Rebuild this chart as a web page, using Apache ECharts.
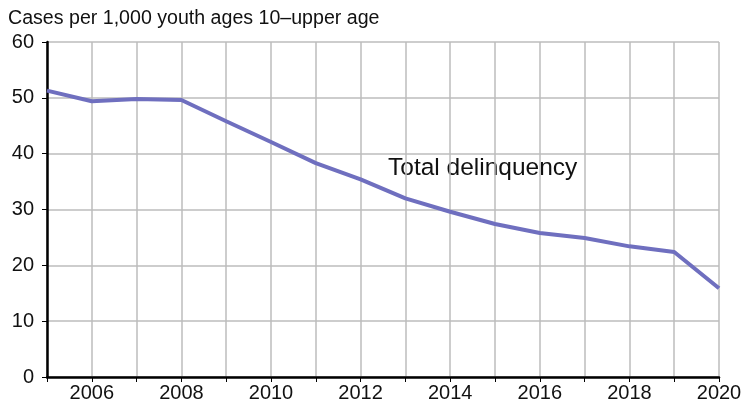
<!DOCTYPE html>
<html>
<head>
<meta charset="utf-8">
<script src="https://cdn.jsdelivr.net/npm/echarts@6/dist/echarts.min.js"></script>
<style>
  html, body { margin: 0; padding: 0; background: #fff; }
  #main { width: 750px; height: 407px; }
</style>
</head>
<body>
<div id="main"></div>
<script>
// data
var years = [2005, 2006, 2007, 2008, 2009, 2010, 2011, 2012, 2013, 2014, 2015, 2016, 2017, 2018, 2019, 2020];
var totalDelinquency = [51.3, 49.4, 49.8, 49.6, 45.8, 42.1, 38.3, 35.4, 32.0, 29.6, 27.4, 25.8, 24.9, 23.4, 22.4, 15.9];
var yTicks = [0, 10, 20, 30, 40, 50, 60];

var font = 'Liberation Sans, Arial, Helvetica, sans-serif';

function showChart() {
    var myChart = echarts.init(document.getElementById('main'));
    var points = years.map(function (y, i) { return [y, totalDelinquency[i]]; });

    var option = {
        animation: false,
        title: {
            text: 'Cases per 1,000 youth ages 10\u2013upper age',
            left: 3,
            top: 4,
            textStyle: { fontFamily: font, fontSize: 19.6, fontWeight: 'normal', color: '#111' }
        },
        grid: { left: 47, right: 31, top: 42, bottom: 30 },
        xAxis: {
            type: 'value',
            min: years[0],
            max: years[years.length - 1],
            interval: 1,
            axisLine: { lineStyle: { color: '#000', width: 2.5 } },
            axisTick: { show: true, length: 5, lineStyle: { color: '#000', width: 1 } },
            axisLabel: {
                fontFamily: font, fontSize: 20, color: '#111', margin: 6,
                formatter: function (v) { return v % 2 === 0 ? String(v) : ''; }
            },
            splitLine: { show: true, lineStyle: { color: '#bdbdbd', width: 1.5 } }
        },
        yAxis: {
            type: 'value',
            min: yTicks[0],
            max: yTicks[yTicks.length - 1],
            interval: 10,
            axisLine: { show: true, lineStyle: { color: '#000', width: 2.5 } },
            axisTick: { show: true, length: 5, lineStyle: { color: '#000', width: 1 } },
            axisLabel: { fontFamily: font, fontSize: 20, color: '#111', margin: 13 },
            splitLine: { show: true, lineStyle: { color: '#bdbdbd', width: 1.5 } }
        },
        graphic: [{
            type: 'text',
            left: 388,
            top: 156,
            style: { text: 'Total delinquency', font: '24.5px ' + font, fill: '#111' }
        }],
        series: [{
            name: 'Total delinquency',
            type: 'line',
            data: points,
            symbol: 'none',
            lineStyle: { color: '#6f6fbf', width: 4 }
        }]
    };

    myChart.setOption(option);
}

showChart();
</script>
</body>
</html>
